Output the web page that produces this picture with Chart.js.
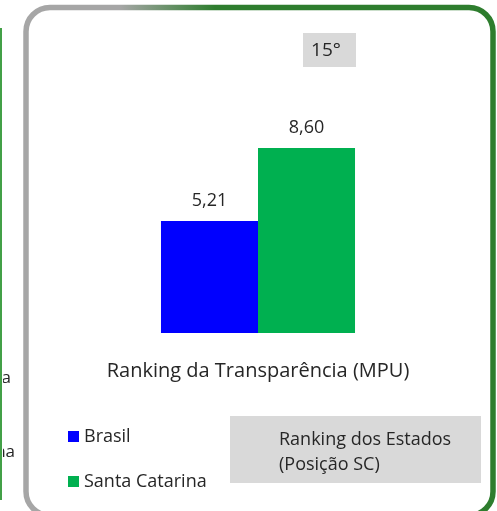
<!DOCTYPE html>
<html>
<head>
<meta charset="utf-8">
<script src="https://cdn.jsdelivr.net/npm/chart.js@4/dist/chart.umd.min.js"></script>
<style>
  html, body { margin: 0; padding: 0; background: #fff; }
  #wrap { width: 497px; height: 511px; position: relative; }
</style>
</head>
<body>
<div id="wrap"><canvas id="rank-graph" width="497" height="511"></canvas></div>
<script>
const categories = [''];
const seriesNames = ['Brasil', 'Santa Catarina'];
const brasilValues = [5.21];
const scValues = [8.60];
const seriesColors = ['#0000FF', '#00B050'];
const axisTitle = 'Ranking da Transparência (MPU)';
const positionText = '15°';
const boxLines = ['Ranking dos Estados', '(Posição SC)'];
const leftPanelText = ['a', 'na'];

const FONT = '"Open Sans", "Noto Sans", sans-serif';
const TEXT = '#262626';

function fmt(v) {
  return v.toFixed(2).replace('.', ',');
}

// frame, boxes, legend and value labels
const decorPlugin = {
  id: 'decor',
  beforeDraw(chart) {
    const ctx = chart.ctx;
    ctx.save();
    ctx.fillStyle = '#fff';
    ctx.fillRect(0, 0, chart.width, chart.height);

    // neighbour panel, cut off at the left
    ctx.strokeStyle = '#43A047';
    ctx.lineWidth = 2;
    ctx.beginPath();
    ctx.moveTo(1, 28);
    ctx.lineTo(1, 500);
    ctx.stroke();
    ctx.beginPath();
    ctx.rect(3, 0, 20, chart.height);
    ctx.clip();
    ctx.fillStyle = TEXT;
    ctx.font = '17px ' + FONT;
    ctx.textAlign = 'right';
    ctx.textBaseline = 'middle';
    ctx.fillText(leftPanelText[0], 11, 378);
    ctx.fillText(leftPanelText[1], 15, 452);
    ctx.restore();

    // rounded frame
    ctx.save();
    const grad = ctx.createLinearGradient(120, 0, 215, 0);
    grad.addColorStop(0, '#A6A6A6');
    grad.addColorStop(1, '#2E7D2E');
    ctx.strokeStyle = grad;
    ctx.lineWidth = 5.5;
    ctx.beginPath();
    ctx.roundRect(26, 7.5, 467, 508, 24);
    ctx.stroke();
    ctx.restore();

    // position box and ranking box
    ctx.save();
    ctx.fillStyle = '#D9D9D9';
    ctx.fillRect(303, 33, 53, 34);
    ctx.fillRect(230, 416, 251, 67);
    ctx.fillStyle = TEXT;
    ctx.font = '19px ' + FONT;
    ctx.textAlign = 'center';
    ctx.textBaseline = 'middle';
    ctx.fillText(positionText, 326, 51);
    ctx.font = '18px ' + FONT;
    ctx.textAlign = 'left';
    ctx.fillText(boxLines[0], 279, 440);
    ctx.fillText(boxLines[1], 279, 465);
    ctx.restore();
  },
  afterDatasetsDraw(chart) {
    const ctx = chart.ctx;
    ctx.save();
    ctx.fillStyle = TEXT;
    ctx.font = '18px ' + FONT;
    ctx.textAlign = 'center';
    ctx.textBaseline = 'middle';
    chart.data.datasets.forEach((ds, i) => {
      chart.getDatasetMeta(i).data.forEach((bar, j) => {
        ctx.fillText(fmt(ds.data[j]), bar.x, bar.y - 20);
      });
    });

    // legend, stacked vertically
    ctx.font = '18px ' + FONT;
    ctx.textAlign = 'left';
    chart.data.datasets.forEach((ds, i) => {
      const y = 437 + i * 45;
      ctx.fillStyle = ds.backgroundColor;
      ctx.fillRect(68, y - 6, 11, 11);
      ctx.fillStyle = TEXT;
      ctx.fillText(ds.label, 84, y);
    });
    ctx.restore();
  }
};

const ctx = document.getElementById('rank-graph').getContext('2d');
new Chart(ctx, {
  type: 'bar',
  data: {
    labels: categories,
    datasets: [
      { label: seriesNames[0], data: brasilValues, backgroundColor: seriesColors[0] },
      { label: seriesNames[1], data: scValues, backgroundColor: seriesColors[1] }
    ]
  },
  options: {
    responsive: false,
    animation: false,
    layout: { padding: { left: 60, right: 41, top: 118, bottom: 128 } },
    datasets: {
      bar: { barPercentage: 1, categoryPercentage: 0.49 }
    },
    plugins: {
      legend: { display: false },
      tooltip: { enabled: false }
    },
    scales: {
      x: {
        grid: { display: false, drawTicks: false },
        border: { display: false },
        ticks: { display: false },
        title: {
          display: true,
          text: axisTitle,
          color: TEXT,
          font: { family: FONT, size: 20, lineHeight: 1.2 },
          padding: { top: 26, bottom: 0 }
        }
      },
      y: {
        display: false,
        min: 0,
        max: 10
      }
    }
  },
  plugins: [decorPlugin]
});
</script>
</body>
</html>
